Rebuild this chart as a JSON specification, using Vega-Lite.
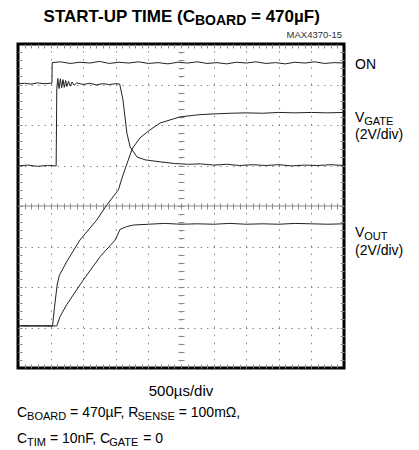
{
  "$schema": "https://vega.github.io/schema/vega-lite/v6.json",
  "width": 326,
  "height": 324,
  "autosize": "none",
  "padding": {"left": 18, "top": 44, "right": 75, "bottom": 82},
  "background": "white",
  "view": {"stroke": "black", "strokeWidth": 3},
  "config": {"font": "Liberation Sans, Arial, sans-serif"},
  "resolve": {"axis": {"x": "independent", "y": "independent"}},
  "layer": [
    {
      "data": {"values": [{}]},
      "mark": {"type": "rule", "color": "#8a8a8a", "strokeWidth": 1, "strokeDash": [1.5, 6.6]},
      "encoding": {
        "x": {"datum": 5, "type": "quantitative", "scale": {"domain": [0, 10], "nice": false, "zero": false},
          "axis": {"orient": "bottom", "values": [1, 2, 3, 4, 6, 7, 8, 9], "grid": true, "gridDash": [1.5, 6.6], "gridColor": "#8a8a8a", "gridOpacity": 1, "ticks": false, "labels": false, "domain": false, "title": null}}
      }
    },
    {
      "data": {"values": [{}]},
      "mark": {"type": "rule", "color": "#8a8a8a", "strokeWidth": 1},
      "encoding": {
        "y": {"datum": 4, "type": "quantitative", "scale": {"domain": [0, 8], "nice": false, "zero": false},
          "axis": {"orient": "left", "values": [1, 2, 3, 5, 6, 7], "grid": true, "gridDash": [1.5, 5.0], "gridColor": "#8a8a8a", "gridOpacity": 1, "ticks": false, "labels": false, "domain": false, "title": null}}
      }
    },
    {
      "data": {"values": [{}]},
      "mark": {"type": "rule", "opacity": 0},
      "encoding": {
        "x": {"datum": 5, "type": "quantitative",
          "axis": {"orient": "bottom", "offset": -165, "tickSize": 6, "tickColor": "#8a8a8a", "values": [0.2,0.4,0.6,0.8,1,1.2,1.4,1.6,1.8,2,2.2,2.4,2.6,2.8,3,3.2,3.4,3.6,3.8,4,4.2,4.4,4.6,4.8,5,5.2,5.4,5.6,5.8,6,6.2,6.4,6.6,6.8,7,7.2,7.4,7.6,7.8,8,8.2,8.4,8.6,8.8,9,9.2,9.4,9.6,9.8], "labels": false, "domain": false, "grid": false, "title": null}}
      }
    },
    {
      "data": {"values": [{}]},
      "mark": {"type": "rule", "opacity": 0},
      "encoding": {
        "y": {"datum": 4, "type": "quantitative",
          "axis": {"orient": "left", "offset": -166, "tickSize": 6, "tickColor": "#8a8a8a", "values": [0.2,0.4,0.6,0.8,1,1.2,1.4,1.6,1.8,2,2.2,2.4,2.6,2.8,3,3.2,3.4,3.6,3.8,4,4.2,4.4,4.6,4.8,5,5.2,5.4,5.6,5.8,6,6.2,6.4,6.6,6.8,7,7.2,7.4,7.6,7.8], "labels": false, "domain": false, "grid": false, "title": null}}
      }
    },
    {
      "data": {"values": [{}]},
      "mark": {"type": "rule", "opacity": 0},
      "encoding": {
        "x": {"datum": 5, "type": "quantitative",
          "axis": {"orient": "top", "tickSize": -4, "tickColor": "#8a8a8a", "values": [0.2,0.4,0.6,0.8,1,1.2,1.4,1.6,1.8,2,2.2,2.4,2.6,2.8,3,3.2,3.4,3.6,3.8,4,4.2,4.4,4.6,4.8,5,5.2,5.4,5.6,5.8,6,6.2,6.4,6.6,6.8,7,7.2,7.4,7.6,7.8,8,8.2,8.4,8.6,8.8,9,9.2,9.4,9.6,9.8], "labels": false, "domain": false, "grid": false, "title": null}}
      }
    },
    {
      "data": {"values": [{}]},
      "mark": {"type": "rule", "opacity": 0},
      "encoding": {
        "y": {"datum": 4, "type": "quantitative",
          "axis": {"orient": "right", "tickSize": -4, "tickColor": "#8a8a8a", "values": [0.2,0.4,0.6,0.8,1,1.2,1.4,1.6,1.8,2,2.2,2.4,2.6,2.8,3,3.2,3.4,3.6,3.8,4,4.2,4.4,4.6,4.8,5,5.2,5.4,5.6,5.8,6,6.2,6.4,6.6,6.8,7,7.2,7.4,7.6,7.8], "labels": false, "domain": false, "grid": false, "title": null}}
      }
    },
    {
      "data": {"values": [
        {"s": "ON", "t": 0, "v": 7.02}, {"s": "ON", "t": 0.2, "v": 7.03}, {"s": "ON", "t": 0.4, "v": 7.01}, {"s": "ON", "t": 0.6, "v": 7.04}, {"s": "ON", "t": 0.8, "v": 7.02}, {"s": "ON", "t": 1.0, "v": 7.03}, {"s": "ON", "t": 1.04, "v": 7.03}, {"s": "ON", "t": 1.05, "v": 7.54}, {"s": "ON", "t": 1.3, "v": 7.56}, {"s": "ON", "t": 1.6, "v": 7.52}, {"s": "ON", "t": 1.9, "v": 7.55}, {"s": "ON", "t": 2.2, "v": 7.53}, {"s": "ON", "t": 2.5, "v": 7.57}, {"s": "ON", "t": 2.8, "v": 7.52}, {"s": "ON", "t": 3.1, "v": 7.55}, {"s": "ON", "t": 3.4, "v": 7.53}, {"s": "ON", "t": 3.7, "v": 7.56}, {"s": "ON", "t": 4.0, "v": 7.52}, {"s": "ON", "t": 4.3, "v": 7.54}, {"s": "ON", "t": 4.6, "v": 7.51}, {"s": "ON", "t": 4.9, "v": 7.55}, {"s": "ON", "t": 5.2, "v": 7.53}, {"s": "ON", "t": 5.5, "v": 7.56}, {"s": "ON", "t": 5.8, "v": 7.52}, {"s": "ON", "t": 6.1, "v": 7.54}, {"s": "ON", "t": 6.4, "v": 7.51}, {"s": "ON", "t": 6.7, "v": 7.55}, {"s": "ON", "t": 7.0, "v": 7.53}, {"s": "ON", "t": 7.3, "v": 7.56}, {"s": "ON", "t": 7.6, "v": 7.52}, {"s": "ON", "t": 7.9, "v": 7.54}, {"s": "ON", "t": 8.2, "v": 7.51}, {"s": "ON", "t": 8.5, "v": 7.55}, {"s": "ON", "t": 8.8, "v": 7.53}, {"s": "ON", "t": 9.1, "v": 7.56}, {"s": "ON", "t": 9.4, "v": 7.52}, {"s": "ON", "t": 9.7, "v": 7.54}, {"s": "ON", "t": 10, "v": 7.53},
        {"s": "CH3", "t": 0, "v": 4.99}, {"s": "CH3", "t": 0.3, "v": 5.01}, {"s": "CH3", "t": 0.6, "v": 4.98}, {"s": "CH3", "t": 0.9, "v": 5.0}, {"s": "CH3", "t": 1.17, "v": 4.99}, {"s": "CH3", "t": 1.19, "v": 6.9}, {"s": "CH3", "t": 1.22, "v": 7.15}, {"s": "CH3", "t": 1.26, "v": 6.9}, {"s": "CH3", "t": 1.30, "v": 7.14}, {"s": "CH3", "t": 1.34, "v": 6.92}, {"s": "CH3", "t": 1.38, "v": 7.12}, {"s": "CH3", "t": 1.42, "v": 6.93}, {"s": "CH3", "t": 1.46, "v": 7.1}, {"s": "CH3", "t": 1.50, "v": 6.95}, {"s": "CH3", "t": 1.55, "v": 7.08}, {"s": "CH3", "t": 1.60, "v": 6.96}, {"s": "CH3", "t": 1.66, "v": 7.06}, {"s": "CH3", "t": 1.72, "v": 6.98}, {"s": "CH3", "t": 1.8, "v": 7.04}, {"s": "CH3", "t": 2.0, "v": 7.0}, {"s": "CH3", "t": 2.2, "v": 7.03}, {"s": "CH3", "t": 2.4, "v": 6.99}, {"s": "CH3", "t": 2.6, "v": 7.02}, {"s": "CH3", "t": 2.8, "v": 7.0}, {"s": "CH3", "t": 3.0, "v": 7.02}, {"s": "CH3", "t": 3.12, "v": 7.01}, {"s": "CH3", "t": 3.22, "v": 6.62}, {"s": "CH3", "t": 3.34, "v": 5.80}, {"s": "CH3", "t": 3.44, "v": 5.46}, {"s": "CH3", "t": 3.65, "v": 5.21}, {"s": "CH3", "t": 3.90, "v": 5.14}, {"s": "CH3", "t": 4.36, "v": 5.09}, {"s": "CH3", "t": 4.8, "v": 5.05}, {"s": "CH3", "t": 5.2, "v": 5.03}, {"s": "CH3", "t": 5.6, "v": 5.04}, {"s": "CH3", "t": 6.0, "v": 5.01}, {"s": "CH3", "t": 6.4, "v": 5.03}, {"s": "CH3", "t": 6.8, "v": 5.0}, {"s": "CH3", "t": 7.2, "v": 5.02}, {"s": "CH3", "t": 7.6, "v": 5.0}, {"s": "CH3", "t": 8.0, "v": 5.02}, {"s": "CH3", "t": 8.4, "v": 4.99}, {"s": "CH3", "t": 8.8, "v": 5.01}, {"s": "CH3", "t": 9.2, "v": 5.0}, {"s": "CH3", "t": 9.6, "v": 5.02}, {"s": "CH3", "t": 10, "v": 5.0},
        {"s": "VGATE", "t": 0, "v": 1.04}, {"s": "VGATE", "t": 0.3, "v": 1.05}, {"s": "VGATE", "t": 0.6, "v": 1.03}, {"s": "VGATE", "t": 0.9, "v": 1.05}, {"s": "VGATE", "t": 1.06, "v": 1.04}, {"s": "VGATE", "t": 1.12, "v": 1.5}, {"s": "VGATE", "t": 1.2, "v": 2.05}, {"s": "VGATE", "t": 1.27, "v": 2.29}, {"s": "VGATE", "t": 1.49, "v": 2.62}, {"s": "VGATE", "t": 1.90, "v": 3.16}, {"s": "VGATE", "t": 2.41, "v": 3.65}, {"s": "VGATE", "t": 2.72, "v": 4.02}, {"s": "VGATE", "t": 3.08, "v": 4.40}, {"s": "VGATE", "t": 3.19, "v": 4.69}, {"s": "VGATE", "t": 3.50, "v": 5.41}, {"s": "VGATE", "t": 3.74, "v": 5.68}, {"s": "VGATE", "t": 4.05, "v": 5.88}, {"s": "VGATE", "t": 4.36, "v": 6.05}, {"s": "VGATE", "t": 4.97, "v": 6.20}, {"s": "VGATE", "t": 5.5, "v": 6.25}, {"s": "VGATE", "t": 5.89, "v": 6.27}, {"s": "VGATE", "t": 6.5, "v": 6.29}, {"s": "VGATE", "t": 7, "v": 6.30}, {"s": "VGATE", "t": 7.5, "v": 6.29}, {"s": "VGATE", "t": 8, "v": 6.31}, {"s": "VGATE", "t": 8.5, "v": 6.30}, {"s": "VGATE", "t": 9, "v": 6.31}, {"s": "VGATE", "t": 9.5, "v": 6.30}, {"s": "VGATE", "t": 10, "v": 6.31},
        {"s": "VOUT", "t": 0, "v": 1.04}, {"s": "VOUT", "t": 0.3, "v": 1.03}, {"s": "VOUT", "t": 0.6, "v": 1.05}, {"s": "VOUT", "t": 0.9, "v": 1.03}, {"s": "VOUT", "t": 1.19, "v": 1.04}, {"s": "VOUT", "t": 1.29, "v": 1.27}, {"s": "VOUT", "t": 1.49, "v": 1.56}, {"s": "VOUT", "t": 2.00, "v": 2.17}, {"s": "VOUT", "t": 2.52, "v": 2.75}, {"s": "VOUT", "t": 2.98, "v": 3.16}, {"s": "VOUT", "t": 3.13, "v": 3.42}, {"s": "VOUT", "t": 3.33, "v": 3.49}, {"s": "VOUT", "t": 3.54, "v": 3.53}, {"s": "VOUT", "t": 4, "v": 3.55}, {"s": "VOUT", "t": 4.5, "v": 3.57}, {"s": "VOUT", "t": 5, "v": 3.55}, {"s": "VOUT", "t": 5.5, "v": 3.56}, {"s": "VOUT", "t": 6, "v": 3.55}, {"s": "VOUT", "t": 6.5, "v": 3.57}, {"s": "VOUT", "t": 7, "v": 3.55}, {"s": "VOUT", "t": 7.5, "v": 3.56}, {"s": "VOUT", "t": 8, "v": 3.55}, {"s": "VOUT", "t": 8.5, "v": 3.57}, {"s": "VOUT", "t": 9, "v": 3.56}, {"s": "VOUT", "t": 9.5, "v": 3.55}, {"s": "VOUT", "t": 10, "v": 3.56}
      ]},
      "mark": {"type": "line", "color": "#222222", "strokeWidth": 1},
      "encoding": {
        "x": {"field": "t", "type": "quantitative",
          "axis": {"orient": "bottom", "tickSize": -4, "tickColor": "#8a8a8a", "values": [0.2,0.4,0.6,0.8,1,1.2,1.4,1.6,1.8,2,2.2,2.4,2.6,2.8,3,3.2,3.4,3.6,3.8,4,4.2,4.4,4.6,4.8,5,5.2,5.4,5.6,5.8,6,6.2,6.4,6.6,6.8,7,7.2,7.4,7.6,7.8,8,8.2,8.4,8.6,8.8,9,9.2,9.4,9.6,9.8], "labels": false, "domain": false, "grid": false, "title": null}},
        "y": {"field": "v", "type": "quantitative",
          "axis": {"orient": "left", "tickSize": -4, "tickColor": "#8a8a8a", "values": [0.2,0.4,0.6,0.8,1,1.2,1.4,1.6,1.8,2,2.2,2.4,2.6,2.8,3,3.2,3.4,3.6,3.8,4,4.2,4.4,4.6,4.8,5,5.2,5.4,5.6,5.8,6,6.2,6.4,6.6,6.8,7,7.2,7.4,7.6,7.8], "labels": false, "domain": false, "grid": false, "title": null}},
        "detail": {"field": "s"}
      }
    },
    {"data": {"values": [{"label": "START-UP TIME (C"}]}, "mark": {"type": "text", "align": "right", "baseline": "alphabetic", "fontSize": 17, "fontWeight": "bold", "color": "black"},
      "encoding": {"x": {"datum": 5.429, "type": "quantitative", "axis": null}, "y": {"datum": 8.543, "type": "quantitative", "axis": null}, "text": {"field": "label"}}},
    {"data": {"values": [{"label": "BOARD"}]}, "mark": {"type": "text", "align": "left", "baseline": "alphabetic", "fontSize": 14, "fontWeight": "bold", "color": "black"},
      "encoding": {"x": {"datum": 5.429, "type": "quantitative", "axis": null}, "y": {"datum": 8.469, "type": "quantitative", "axis": null}, "text": {"field": "label"}}},
    {"data": {"values": [{"label": "= 470µF)"}]}, "mark": {"type": "text", "align": "left", "baseline": "alphabetic", "fontSize": 17, "fontWeight": "bold", "color": "black"},
      "encoding": {"x": {"datum": 7.147, "type": "quantitative", "axis": null}, "y": {"datum": 8.543, "type": "quantitative", "axis": null}, "text": {"field": "label"}}},
    {"data": {"values": [{"label": "MAX4370-15"}]}, "mark": {"type": "text", "align": "right", "baseline": "alphabetic", "fontSize": 9.5, "color": "#333333"},
      "encoding": {"x": {"datum": 9.939, "type": "quantitative", "axis": null}, "y": {"datum": 8.148, "type": "quantitative", "axis": null}, "text": {"field": "label"}}},
    {"data": {"values": [{"label": "ON"}]}, "mark": {"type": "text", "align": "left", "baseline": "alphabetic", "fontSize": 14, "color": "black"},
      "encoding": {"x": {"datum": 10.337, "type": "quantitative", "axis": null}, "y": {"datum": 7.38, "type": "quantitative", "axis": null}, "text": {"field": "label"}}},
    {"data": {"values": [{"label": "V"}]}, "mark": {"type": "text", "align": "left", "baseline": "alphabetic", "fontSize": 14, "color": "black"},
      "encoding": {"x": {"datum": 10.337, "type": "quantitative", "axis": null}, "y": {"datum": 6.086, "type": "quantitative", "axis": null}, "text": {"field": "label"}}},
    {"data": {"values": [{"label": "GATE"}]}, "mark": {"type": "text", "align": "left", "baseline": "alphabetic", "fontSize": 11, "color": "black"},
      "encoding": {"x": {"datum": 10.62, "type": "quantitative", "axis": null}, "y": {"datum": 6.012, "type": "quantitative", "axis": null}, "text": {"field": "label"}}},
    {"data": {"values": [{"label": "(2V/div)"}]}, "mark": {"type": "text", "align": "left", "baseline": "alphabetic", "fontSize": 14, "color": "black"},
      "encoding": {"x": {"datum": 10.337, "type": "quantitative", "axis": null}, "y": {"datum": 5.642, "type": "quantitative", "axis": null}, "text": {"field": "label"}}},
    {"data": {"values": [{"label": "V"}]}, "mark": {"type": "text", "align": "left", "baseline": "alphabetic", "fontSize": 14, "color": "black"},
      "encoding": {"x": {"datum": 10.337, "type": "quantitative", "axis": null}, "y": {"datum": 3.235, "type": "quantitative", "axis": null}, "text": {"field": "label"}}},
    {"data": {"values": [{"label": "OUT"}]}, "mark": {"type": "text", "align": "left", "baseline": "alphabetic", "fontSize": 11, "color": "black"},
      "encoding": {"x": {"datum": 10.62, "type": "quantitative", "axis": null}, "y": {"datum": 3.16, "type": "quantitative", "axis": null}, "text": {"field": "label"}}},
    {"data": {"values": [{"label": "(2V/div)"}]}, "mark": {"type": "text", "align": "left", "baseline": "alphabetic", "fontSize": 14, "color": "black"},
      "encoding": {"x": {"datum": 10.337, "type": "quantitative", "axis": null}, "y": {"datum": 2.80, "type": "quantitative", "axis": null}, "text": {"field": "label"}}},
    {"data": {"values": [{"label": "500µs/div"}]}, "mark": {"type": "text", "align": "center", "baseline": "alphabetic", "fontSize": 15, "color": "black"},
      "encoding": {"x": {"datum": 5.0, "type": "quantitative", "axis": null}, "y": {"datum": -0.691, "type": "quantitative", "axis": null}, "text": {"field": "label"}}},
    {"data": {"values": [{"label": "C"}]}, "mark": {"type": "text", "align": "left", "baseline": "alphabetic", "fontSize": 14, "color": "black"},
      "encoding": {"x": {"datum": -0.031, "type": "quantitative", "axis": null}, "y": {"datum": -1.2, "type": "quantitative", "axis": null}, "text": {"field": "label"}}},
    {"data": {"values": [{"label": "BOARD"}]}, "mark": {"type": "text", "align": "left", "baseline": "alphabetic", "fontSize": 11, "color": "black"},
      "encoding": {"x": {"datum": 0.279, "type": "quantitative", "axis": null}, "y": {"datum": -1.277, "type": "quantitative", "axis": null}, "text": {"field": "label"}}},
    {"data": {"values": [{"label": "= 470µF, R"}]}, "mark": {"type": "text", "align": "left", "baseline": "alphabetic", "fontSize": 14, "color": "black"},
      "encoding": {"x": {"datum": 1.598, "type": "quantitative", "axis": null}, "y": {"datum": -1.2, "type": "quantitative", "axis": null}, "text": {"field": "label"}}},
    {"data": {"values": [{"label": "SENSE"}]}, "mark": {"type": "text", "align": "left", "baseline": "alphabetic", "fontSize": 11, "color": "black"},
      "encoding": {"x": {"datum": 3.665, "type": "quantitative", "axis": null}, "y": {"datum": -1.277, "type": "quantitative", "axis": null}, "text": {"field": "label"}}},
    {"data": {"values": [{"label": "= 100mΩ,"}]}, "mark": {"type": "text", "align": "left", "baseline": "alphabetic", "fontSize": 14, "color": "black"},
      "encoding": {"x": {"datum": 4.93, "type": "quantitative", "axis": null}, "y": {"datum": -1.2, "type": "quantitative", "axis": null}, "text": {"field": "label"}}},
    {"data": {"values": [{"label": "C"}]}, "mark": {"type": "text", "align": "left", "baseline": "alphabetic", "fontSize": 14, "color": "black"},
      "encoding": {"x": {"datum": -0.031, "type": "quantitative", "axis": null}, "y": {"datum": -1.86, "type": "quantitative", "axis": null}, "text": {"field": "label"}}},
    {"data": {"values": [{"label": "TIM"}]}, "mark": {"type": "text", "align": "left", "baseline": "alphabetic", "fontSize": 11, "color": "black"},
      "encoding": {"x": {"datum": 0.279, "type": "quantitative", "axis": null}, "y": {"datum": -1.926, "type": "quantitative", "axis": null}, "text": {"field": "label"}}},
    {"data": {"values": [{"label": "= 10nF, C"}]}, "mark": {"type": "text", "align": "left", "baseline": "alphabetic", "fontSize": 14, "color": "black"},
      "encoding": {"x": {"datum": 0.979, "type": "quantitative", "axis": null}, "y": {"datum": -1.86, "type": "quantitative", "axis": null}, "text": {"field": "label"}}},
    {"data": {"values": [{"label": "GATE"}]}, "mark": {"type": "text", "align": "left", "baseline": "alphabetic", "fontSize": 11, "color": "black"},
      "encoding": {"x": {"datum": 2.80, "type": "quantitative", "axis": null}, "y": {"datum": -1.926, "type": "quantitative", "axis": null}, "text": {"field": "label"}}},
    {"data": {"values": [{"label": "= 0"}]}, "mark": {"type": "text", "align": "left", "baseline": "alphabetic", "fontSize": 14, "color": "black"},
      "encoding": {"x": {"datum": 3.84, "type": "quantitative", "axis": null}, "y": {"datum": -1.86, "type": "quantitative", "axis": null}, "text": {"field": "label"}}}
  ]
}
